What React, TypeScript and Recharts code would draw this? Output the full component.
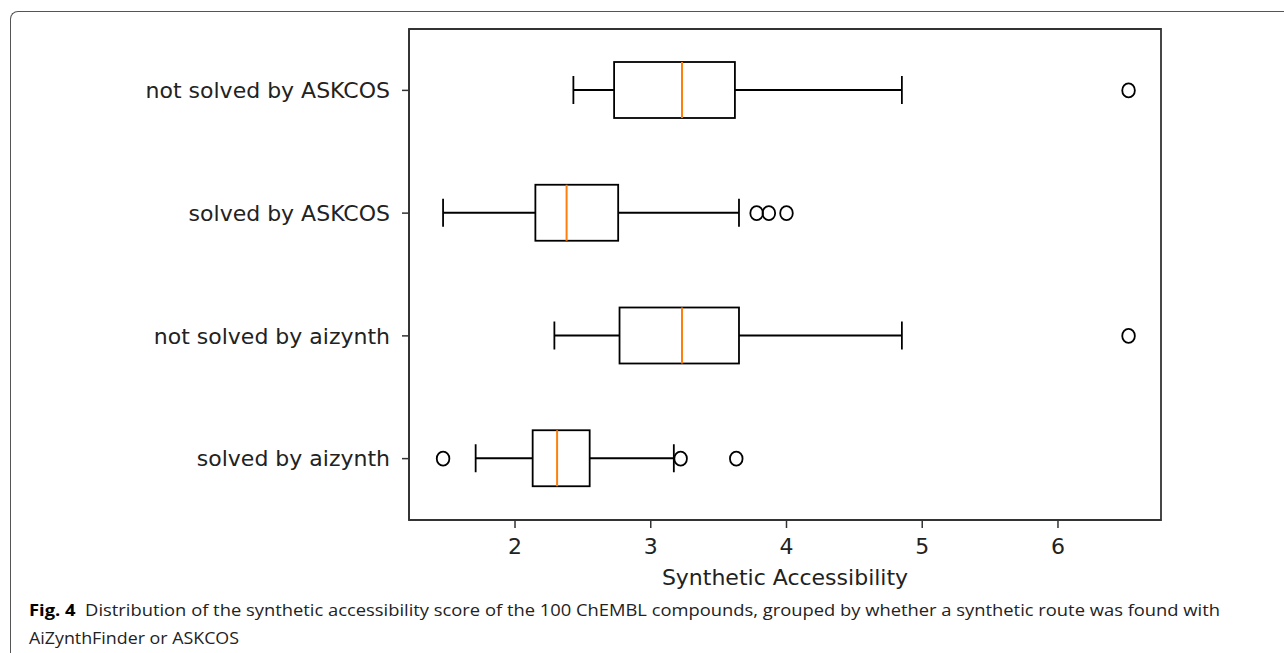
import React from 'react';
import { ComposedChart, Bar, Scatter, XAxis, YAxis, ReferenceArea } from 'recharts';

// one row per group, top to bottom as in the figure
const groups = [
  'not solved by ASKCOS',
  'solved by ASKCOS',
  'not solved by aizynth',
  'solved by aizynth',
];
const whiskerLow = [2.43, 1.47, 2.29, 1.71];
const q1 = [2.73, 2.15, 2.77, 2.13];
const median = [3.23, 2.38, 3.23, 2.31];
const q3 = [3.62, 2.76, 3.65, 2.55];
const whiskerHigh = [4.85, 3.65, 4.85, 3.17];
const outliers = [[6.52], [3.78, 3.87, 4.0], [6.52], [1.47, 3.22, 3.63]];
const xTicks = [2, 3, 4, 5, 6];
const xDomain = [1.219, 6.759];

const rows = groups.map((group, i) => ({
  group,
  box: [q1[i], q3[i]],
  low: whiskerLow[i],
  q1: q1[i],
  med: median[i],
  q3: q3[i],
  high: whiskerHigh[i],
}));

const outlierPoints = groups.flatMap((group, i) =>
  outliers[i].map((sa) => ({ group, sa }))
);

const W = 1284;
const H = 653;
const tickFont = { fontFamily: 'DejaVu Sans', fontSize: 22, fill: '#222' };

function BoxShape(props: any) {
  const { x, y, width, height, payload } = props;
  if (!payload || !width) return null;
  // pixels per unit, taken from the bar the scale drew for [q1, q3]
  const k = width / (payload.q3 - payload.q1);
  const px = (v: number) => x + (v - payload.q1) * k;
  const cy = y + height / 2;
  const cap = height / 4;
  const s = { stroke: '#000', strokeWidth: 1.8 };
  return (
    <g>
      <line x1={px(payload.low)} x2={px(payload.q1)} y1={cy} y2={cy} {...s} />
      <line x1={px(payload.q3)} x2={px(payload.high)} y1={cy} y2={cy} {...s} />
      <line x1={px(payload.low)} x2={px(payload.low)} y1={cy - cap} y2={cy + cap} {...s} />
      <line x1={px(payload.high)} x2={px(payload.high)} y1={cy - cap} y2={cy + cap} {...s} />
      <rect x={x} y={y} width={width} height={height} fill="none" {...s} />
      <line
        x1={px(payload.med)}
        x2={px(payload.med)}
        y1={y}
        y2={y + height}
        stroke="#ff7f0e"
        strokeWidth={2}
      />
    </g>
  );
}

function Flier(props: any) {
  const { cx, cy } = props;
  if (cx == null || cy == null) return null;
  return <ellipse cx={cx} cy={cy} rx={6.3} ry={7} fill="none" stroke="#000" strokeWidth={1.8} />;
}

export default function App() {
  return (
    <div style={{ position: 'absolute', left: 0, top: 0, width: W, height: H, background: '#fff', overflow: 'hidden' }}>
      <div
        style={{
          position: 'absolute',
          left: 10,
          top: 11,
          width: W,
          height: H,
          borderTop: '1.5px solid #555',
          borderLeft: '1.5px solid #555',
          borderTopLeftRadius: 8,
        }}
      />
      <div style={{ position: 'absolute', left: 0, top: 0 }}>
        <ComposedChart
          width={W}
          height={H}
          data={rows}
          layout="vertical"
          margin={{ top: 29, right: 123, bottom: 63, left: 0 }}
        >
          <XAxis
            type="number"
            domain={xDomain}
            allowDataOverflow
            ticks={xTicks}
            tick={tickFont}
            tickSize={8}
            tickMargin={10}
            height={70}
            axisLine={{ stroke: '#333', strokeWidth: 1.8 }}
            tickLine={{ stroke: '#333', strokeWidth: 1.5 }}
            label={{
              value: 'Synthetic Accessibility',
              position: 'insideBottom',
              offset: 5,
              style: { fontFamily: 'DejaVu Sans', fontSize: 22, fill: '#222' },
            }}
          />
          <YAxis
            type="category"
            dataKey="group"
            allowDuplicatedCategory={false}
            width={409}
            tick={tickFont}
            tickSize={7}
            tickMargin={12}
            axisLine={{ stroke: '#333', strokeWidth: 1.8 }}
            tickLine={{ stroke: '#333', strokeWidth: 1.5 }}
          />
          {/* plot frame (matplotlib spines) */}
          <ReferenceArea
            x1={xDomain[0]}
            x2={xDomain[1]}
            y1={groups[0]}
            y2={groups[groups.length - 1]}
            fill="none"
            stroke="#333"
            strokeWidth={1.8}
            ifOverflow="visible"
          />
          <Bar dataKey="box" barSize={56} shape={<BoxShape />} isAnimationActive={false} />
          <Scatter data={outlierPoints} dataKey="sa" shape={<Flier />} isAnimationActive={false} />
        </ComposedChart>
      </div>
      <svg width={W} height={H} style={{ position: 'absolute', left: 0, top: 0, pointerEvents: 'none' }}>
        <text
          x={29}
          y={616}
          textLength={1191}
          lengthAdjust="spacingAndGlyphs"
          style={{ fontFamily: 'Open Sans', fontSize: 16, fill: '#222' }}
        >
          <tspan fontWeight="bold" fill="#000">Fig. 4</tspan>
          <tspan>{'\u00a0\u00a0Distribution of the synthetic accessibility score of the 100 ChEMBL compounds, grouped by whether a synthetic route was found with'}</tspan>
        </text>
        <text
          x={29}
          y={644}
          textLength={210}
          lengthAdjust="spacingAndGlyphs"
          style={{ fontFamily: 'Open Sans', fontSize: 16, fill: '#222' }}
        >
          AiZynthFinder or ASKCOS
        </text>
      </svg>
    </div>
  );
}
